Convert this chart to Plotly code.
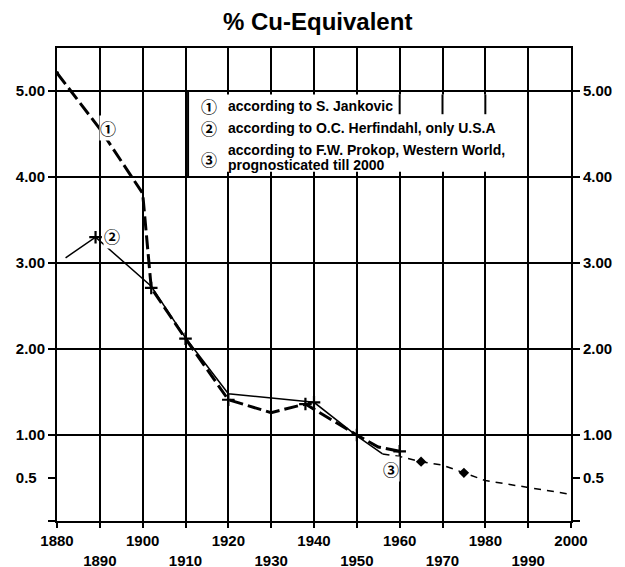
import plotly.graph_objects as go

TITLE = "% Cu-Equivalent"

# Series 1: according to S. Jankovic
JANKOVIC_YEARS = [1880, 1890, 1900, 1901, 1902, 1910, 1920, 1930, 1938, 1950, 1955, 1960]
JANKOVIC_VALUES = [5.21, 4.56, 3.81, 3.23, 2.71, 2.12, 1.41, 1.26, 1.36, 1.00, 0.86, 0.81]
JANKOVIC_MARKED = [1902, 1910, 1920, 1938, 1950, 1960]

# Series 2: according to O.C. Herfindahl, only U.S.A.
HERFINDAHL_YEARS = [1882, 1889, 1902, 1910, 1920, 1940, 1950, 1956]
HERFINDAHL_VALUES = [3.06, 3.30, 2.73, 2.13, 1.48, 1.38, 0.99, 0.78]
HERFINDAHL_MARKED = [1889, 1940]

# Series 3: according to F.W. Prokop, Western World, prognosticated till 2000
PROKOP_YEARS = [1956, 1960, 1965, 1970, 1975, 1980, 1990, 2000]
PROKOP_VALUES = [0.78, 0.75, 0.69, 0.65, 0.56, 0.47, 0.39, 0.31]
PROKOP_MARKED = [1965, 1975]

X_TICKS = list(range(1880, 2001, 10))
X_LABELS = [str(y) if (y - 1880) % 20 == 0 else "<br>" + str(y) for y in X_TICKS]
Y_TICKS = [0, 0.5, 1, 2, 3, 4, 5]
Y_LABELS_RIGHT = ["", "0.5", "1.00", "2.00", "3.00", "4.00", "5.00"]
Y_LABELS_LEFT = ["", "0.5\u00a0\u00a0", "1.00", "2.00", "3.00", "4.00", "5.00"]
GRID_Y = [1, 2, 3, 4, 5]

LEGEND_SYMBOLS = ["\u2460", "\u2461", "\u2462"]
LEGEND_LINES = [
    ["according to S. Jankovic"],
    ["according to O.C. Herfindahl, only U.S.A"],
    ["according to F.W. Prokop, Western World,", "prognosticated till 2000"],
]

FONT = "Liberation Sans, Arial, Helvetica, sans-serif"
CIRC_FONT = "Noto Sans CJK JP, DejaVu Sans, sans-serif"


def pick(years, values, wanted):
    lut = dict(zip(years, values))
    return wanted, [lut[w] for w in wanted]


fig = go.Figure()

# Series 1 - bold long dashes
fig.add_trace(go.Scatter(x=JANKOVIC_YEARS, y=JANKOVIC_VALUES, mode="lines",
                         line=dict(color="black", width=3, dash="14px,5px"),
                         hoverinfo="skip", showlegend=False))
mx, my = pick(JANKOVIC_YEARS, JANKOVIC_VALUES, JANKOVIC_MARKED)
fig.add_trace(go.Scatter(x=mx, y=my, mode="markers",
                         marker=dict(symbol="cross-thin", size=9, line=dict(width=2.2, color="black")),
                         hoverinfo="skip", showlegend=False))
fig.add_trace(go.Scatter(x=JANKOVIC_YEARS[:1], y=JANKOVIC_VALUES[:1], mode="markers",
                         marker=dict(symbol="circle", size=4, color="black"),
                         hoverinfo="skip", showlegend=False))

# Series 2 - thin solid
fig.add_trace(go.Scatter(x=HERFINDAHL_YEARS, y=HERFINDAHL_VALUES, mode="lines",
                         line=dict(color="black", width=1.5),
                         hoverinfo="skip", showlegend=False))
mx, my = pick(HERFINDAHL_YEARS, HERFINDAHL_VALUES, HERFINDAHL_MARKED)
fig.add_trace(go.Scatter(x=mx, y=my, mode="markers",
                         marker=dict(symbol="cross-thin", size=9, line=dict(width=2.2, color="black")),
                         hoverinfo="skip", showlegend=False))

# Series 3 - thin dashes (on the right axis, same scale)
fig.add_trace(go.Scatter(x=PROKOP_YEARS, y=PROKOP_VALUES, mode="lines", yaxis="y2",
                         line=dict(color="black", width=1.5, dash="7px,6px"),
                         hoverinfo="skip", showlegend=False))
mx, my = pick(PROKOP_YEARS, PROKOP_VALUES, PROKOP_MARKED)
fig.add_trace(go.Scatter(x=mx, y=my, mode="markers", yaxis="y2",
                         marker=dict(symbol="diamond", size=8, color="black"),
                         hoverinfo="skip", showlegend=False))

shapes = []
for g in GRID_Y:
    shapes.append(dict(type="line", xref="paper", yref="y", x0=0, x1=1, y0=g, y1=g,
                       line=dict(color="black", width=2), layer="below"))

# legend box
BOX_X0, BOX_X1 = 1910.6, 1990
shapes.append(dict(type="rect", xref="x", yref="y", x0=BOX_X0 + 0.3, x1=BOX_X1 - 0.3,
                   y0=4.06, y1=4.96, fillcolor="white", line=dict(width=0), layer="above"))
shapes.append(dict(type="line", xref="x", yref="y", x0=BOX_X0, x1=BOX_X0, y0=4.0, y1=5.0,
                   line=dict(color="black", width=2), layer="above"))
for sx in [1960, 1970, 1980]:
    shapes.append(dict(type="line", xref="x", yref="y", x0=sx, x1=sx, y0=4.96, y1=4.73,
                       line=dict(color="black", width=2), layer="above"))

annotations = []
circ_font = dict(family=CIRC_FONT, size=16, color="black", weight="bold")
text_font = dict(family=FONT, size=14, color="black", weight="bold")

# legend entries
sym_y = [4.82, 4.57, 4.21]
line_y = [[4.82], [4.57], [4.31, 4.14]]
for sym, sy, lines, ys in zip(LEGEND_SYMBOLS, sym_y, LEGEND_LINES, line_y):
    annotations.append(dict(x=1915.6, y=sy, xref="x", yref="y", text=sym, showarrow=False,
                            font=circ_font, xanchor="center", yanchor="middle"))
    for txt, ly in zip(lines, ys):
        annotations.append(dict(x=1919.4, y=ly, xref="x", yref="y", text=txt, showarrow=False,
                                font=text_font, xanchor="left", yanchor="middle"))

# circled labels at the curves
for sym, lx, ly in [("\u2460", 1891.9, 4.57), ("\u2461", 1892.8, 3.31), ("\u2462", 1958.0, 0.61)]:
    annotations.append(dict(x=lx, y=ly, xref="x", yref="y", text=sym, showarrow=False,
                            bgcolor="white", borderpad=0, font=circ_font,
                            xanchor="center", yanchor="middle"))

tickfont = dict(family=FONT, size=15, color="black", weight="bold")

fig.update_layout(
    width=625, height=567,
    margin=dict(l=57, r=54, t=48, b=46, autoexpand=False),
    paper_bgcolor="white", plot_bgcolor="white",
    title=dict(text=TITLE, x=317 / 625, xanchor="center", xref="paper",
               y=1 - 22 / 567, yanchor="middle", yref="container",
               font=dict(family=FONT, size=24, color="black", weight="bold")),
    xaxis=dict(range=[1880, 2000], tickmode="array", tickvals=X_TICKS, ticktext=X_LABELS,
               showgrid=True, gridcolor="black", gridwidth=2,
               showline=True, linecolor="black", linewidth=2, mirror=True,
               ticks="outside", ticklen=5, tickwidth=2, tickcolor="black",
               tickfont=tickfont, zeroline=False),
    yaxis=dict(range=[0, 5.5], tickmode="array", tickvals=Y_TICKS, ticktext=Y_LABELS_LEFT,
               showgrid=False, zeroline=False,
               showline=True, linecolor="black", linewidth=2,
               ticks="outside", ticklen=7, tickwidth=2, tickcolor="black",
               tickfont=tickfont),
    yaxis2=dict(range=[0, 5.5], overlaying="y", side="right", tickmode="array",
                tickvals=Y_TICKS, ticktext=Y_LABELS_RIGHT,
                showgrid=False, zeroline=False,
                showline=True, linecolor="black", linewidth=2,
                ticks="outside", ticklen=7, tickwidth=2, tickcolor="black",
                tickfont=tickfont),
    shapes=shapes,
    annotations=annotations,
)

fig.write_html("out.html", config={"displayModeBar": False})

# remove the browser's default page margin so the figure sits at (0, 0)
with open("out.html", "r", encoding="utf-8") as fh:
    html = fh.read()
html = html.replace("<body>", '<body style="margin:0;padding:0;overflow:hidden">', 1)
with open("out.html", "w", encoding="utf-8") as fh:
    fh.write(html)
